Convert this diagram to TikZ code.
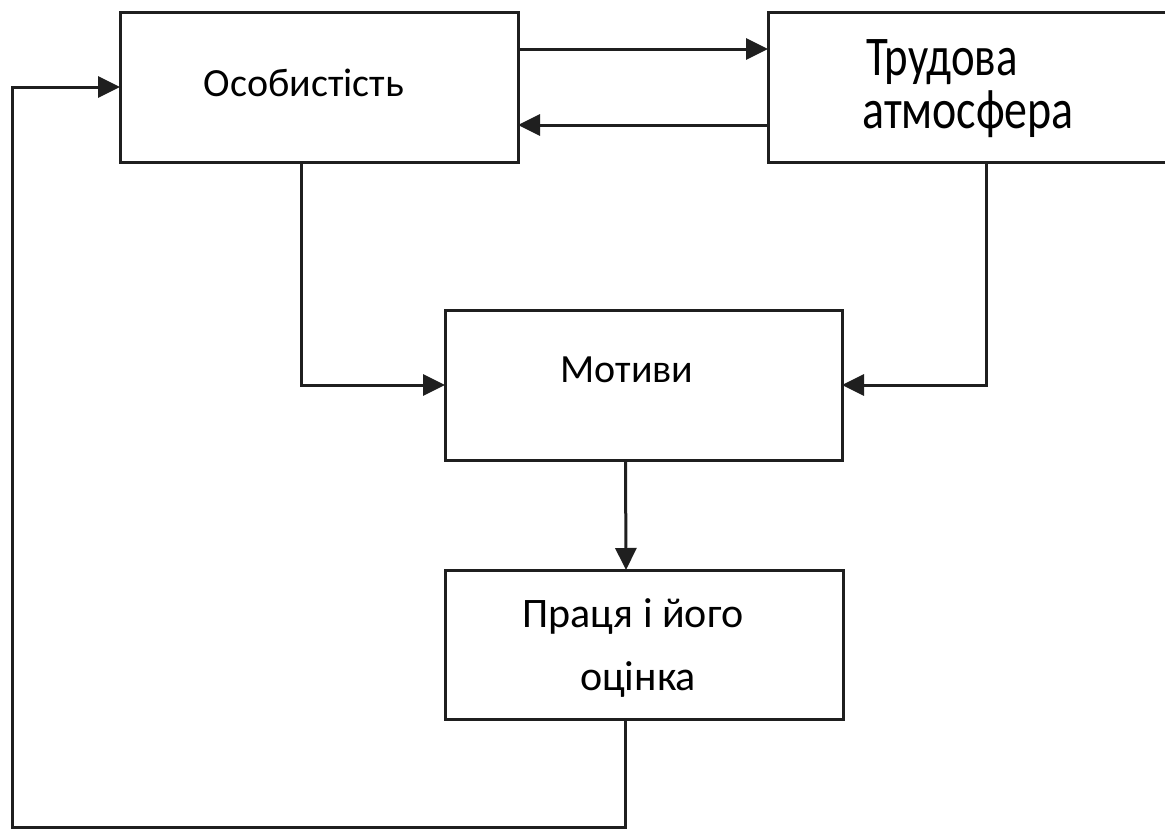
\documentclass[tikz,border=0pt]{standalone}
\usepackage{fontspec}
\setmainfont{Carlito}
\usepackage{graphicx}
\usetikzlibrary{arrows.meta}
\begin{document}
\begin{tikzpicture}[x=1pt,y=-1pt,
  box/.style={draw=black!88, line width=3pt, rectangle, inner sep=0pt, outer sep=0pt},
  openbox/.style={rectangle, inner sep=0pt, outer sep=0pt},
  edge/.style={draw=black!88, line width=3pt, line join=miter},
  arr/.style={draw=black!88, line width=3pt, -{Triangle[length=22pt,width=21pt]}},
  lbl/.style={anchor=base, inner sep=0pt, font=\fontsize{40}{48}\selectfont},
  big/.style={anchor=base west, inner sep=0pt, font=\fontsize{56}{60}\selectfont}]
\useasboundingbox (0,0) rectangle (1165,828);
\fill[white] (0,0) rectangle (1165,828);
% boxes
\node[box, minimum width=398pt, minimum height=150pt] (os) at (319,87) {};
\node[openbox, minimum width=397pt, minimum height=150pt] (tr) at (966.5,87) {};
\draw[edge] (tr.north east) -- (tr.north west) -- (tr.south west) -- (tr.south east);
\node[box, minimum width=397pt, minimum height=150pt] (mo) at (643.5,385) {};
\node[box, minimum width=398pt, minimum height=149pt] (pr) at (644,644.5) {};
% labels
\node[lbl] (tos) at (304,96) {Особистість};
\node[big] (ttr1) at (866,75) {\scalebox{0.8}[1]{Трудова}};
\node[big] (ttr2) at (862,128) {\scalebox{0.82}[1]{атмосфера}};
\node[lbl] (tmo) at (627,382) {Мотиви};
\node[lbl, font=\fontsize{42}{48}\selectfont] (tpr1) at (633,627) {Праця і його};
\node[lbl, font=\fontsize{42}{48}\selectfont] (tpr2) at (638,690) {оцінка};
% connectors
\coordinate (fb) at (12,827.5);
\draw[arr] ([yshift=38pt]os.east) -- ([yshift=38pt]tr.west);
\draw[arr] ([yshift=-38pt]tr.west) -- ([yshift=-38pt]os.east);
\draw[arr] ([xshift=-18pt]os.south) |- (mo.west);
\draw[arr] ([xshift=19.5pt]tr.south) |- (mo.east);
\draw[arr] ([xshift=-18pt]mo.south) -- ([xshift=-18pt]pr.north);
\draw[arr] ([xshift=-19pt]pr.south) |- (fb) |- (os.west);
\end{tikzpicture}
\end{document}
